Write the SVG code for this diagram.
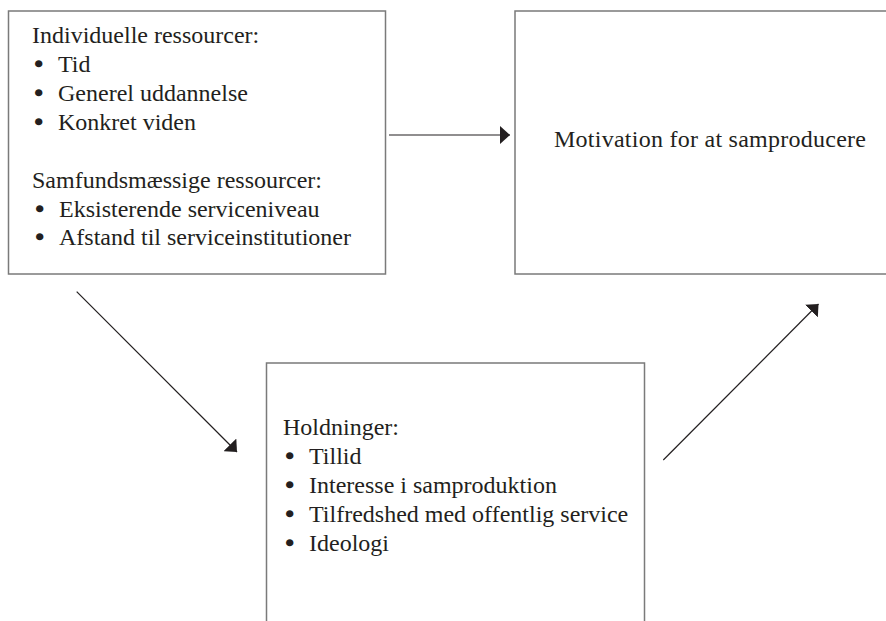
<svg xmlns="http://www.w3.org/2000/svg" width="886" height="621" viewBox="0 0 886 621">
<style>
.box{fill:#fff;stroke:#7a7a7a;stroke-width:1.5}
.t{font-family:"Liberation Serif","Times New Roman",serif;font-size:24px;fill:#231f20}
.b{font-family:"Liberation Serif","Times New Roman",serif;font-size:24px;fill:#231f20;stroke:#231f20;stroke-width:1.6}
.c{stroke:#231f20;stroke-width:1.2;fill:none}
</style>
<defs>
<marker id="ah" markerUnits="userSpaceOnUse" viewBox="0 0 10 18" refX="10" refY="9" markerWidth="10" markerHeight="18" orient="auto">
<path d="M0,0 L10,9 L0,18 z" fill="#231f20"/>
</marker>
</defs>
<rect width="886" height="621" fill="#fff"/>
<g id="ressourcer">
<rect class="box" x="8.5" y="11" width="377" height="263"/>
<text class="t" x="32" y="43">Individuelle ressourcer:</text>
<text class="b" x="34.5" y="72">•</text><text class="t" x="58" y="72">Tid</text>
<text class="b" x="34.5" y="101">•</text><text class="t" x="58" y="101">Generel uddannelse</text>
<text class="b" x="34.5" y="130">•</text><text class="t" x="58" y="130">Konkret viden</text>
<text class="t" x="32" y="188">Samfundsmæssige ressourcer:</text>
<text class="b" x="35.5" y="216.5">•</text><text class="t" x="59" y="216.5">Eksisterende serviceniveau</text>
<text class="b" x="35.5" y="245">•</text><text class="t" x="59" y="245">Afstand til serviceinstitutioner</text>
</g>
<g id="motivation">
<rect class="box" x="515" y="11" width="380" height="263"/>
<text class="t" x="554" y="146.5" textLength="312">Motivation for at samproducere</text>
</g>
<g id="holdninger">
<rect class="box" x="266.5" y="363" width="378" height="270"/>
<text class="t" x="283" y="435">Holdninger:</text>
<text class="b" x="285.5" y="464">•</text><text class="t" x="309" y="464">Tillid</text>
<text class="b" x="285.5" y="493">•</text><text class="t" x="309" y="493">Interesse i samproduktion</text>
<text class="b" x="285.5" y="522">•</text><text class="t" x="309" y="522">Tilfredshed med offentlig service</text>
<text class="b" x="285.5" y="551">•</text><text class="t" x="309" y="551">Ideologi</text>
</g>
<g id="connectors">
<line class="c" x1="389" y1="135" x2="510" y2="135" marker-end="url(#ah)"/>
<line class="c" x1="76.7" y1="291.7" x2="237" y2="452" marker-end="url(#ah)"/>
<line class="c" x1="663.3" y1="460" x2="818.5" y2="304" marker-end="url(#ah)"/>
</g>
</svg>
